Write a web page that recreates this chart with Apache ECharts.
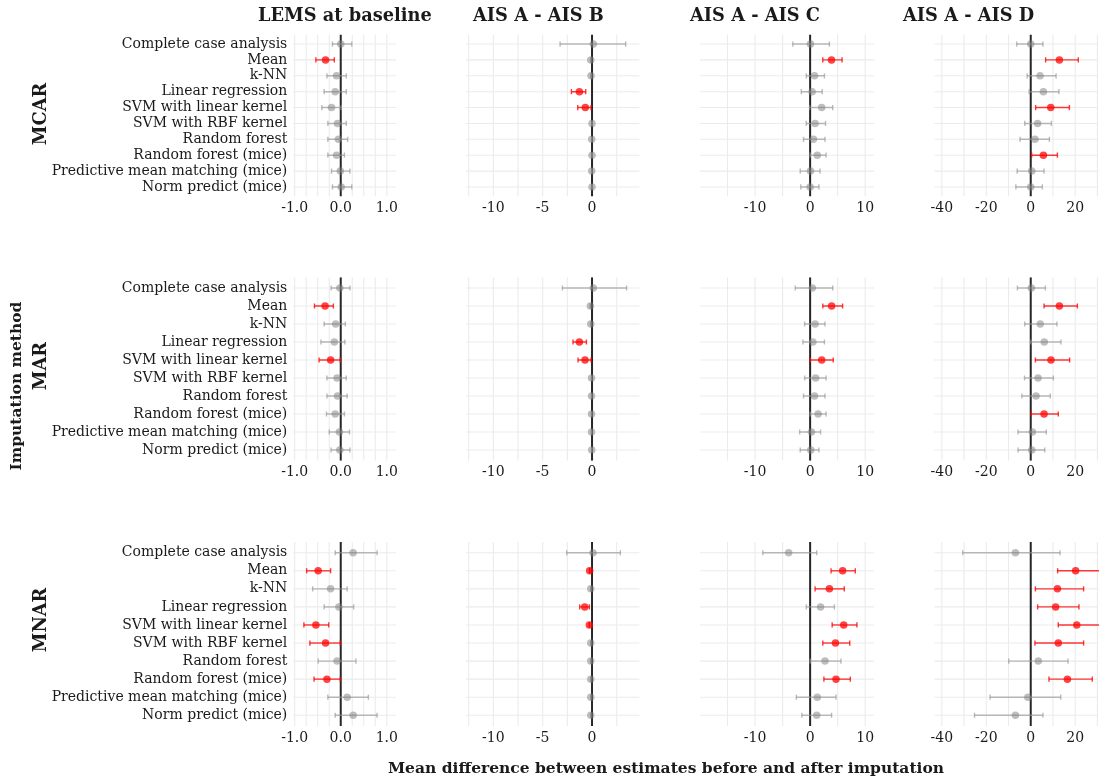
<!DOCTYPE html>
<html>
<head>
<meta charset="utf-8">
<script src="https://cdn.jsdelivr.net/npm/echarts@6/dist/echarts.min.js"></script>
<style>
html,body{margin:0;padding:0;background:#fff;}
#chart{width:1099px;height:782px;}
</style>
</head>
<body>
<div id="chart"></div>
<script>
// ---------------- DATA ----------------
const categories = ["Complete case analysis","Mean","k-NN","Linear regression","SVM with linear kernel","SVM with RBF kernel","Random forest","Random forest (mice)","Predictive mean matching (mice)","Norm predict (mice)"];
const mechanisms = ["MCAR","MAR","MNAR"];
const outcomes = ["LEMS at baseline","AIS A - AIS B","AIS A - AIS C","AIS A - AIS D"];

// each row: [estimate, lower CI, upper CI, significant(1/0)], in category order
const MCAR_LEMS = [[0.00,-0.18,0.24,0],[-0.33,-0.54,-0.14,1],[-0.09,-0.30,0.12,0],[-0.12,-0.36,0.12,0],[-0.20,-0.41,0.01,0],[-0.07,-0.28,0.12,0],[-0.05,-0.28,0.15,0],[-0.09,-0.28,0.08,0],[-0.01,-0.20,0.20,0],[0.01,-0.18,0.24,0]];
const MCAR_B = [[0.13,-3.24,3.41,0],[-0.13,-0.13,-0.13,0],[-0.10,-0.10,-0.10,0],[-1.28,-2.09,-0.64,1],[-0.68,-1.45,-0.10,1],[0.00,0.00,0.00,0],[-0.03,-0.03,-0.03,0],[0.00,0.00,0.00,0],[-0.03,-0.03,-0.03,0],[0.00,0.00,0.00,0]];
const MCAR_C = [[0.06,-3.15,3.5,0],[3.88,2.3,5.8,1],[0.8,-0.7,2.6,0],[0.36,-1.6,2.2,0],[2.1,-0.1,4.1,0],[0.9,-0.7,2.8,0],[0.6,-1.2,2.7,0],[1.3,0.0,2.9,0],[0.06,-1.8,1.8,0],[0.0,-1.7,1.6,0]];
const MCAR_D = [[0.0,-6.3,5.5,0],[12.9,6.7,21.4,1],[4.2,-1.6,11.4,0],[5.7,-0.7,12.7,0],[9.0,2.2,17.4,1],[3.1,-2.7,9.3,0],[1.9,-4.8,8.4,0],[5.7,0.4,12.0,1],[0.45,-6.1,6.0,0],[0.0,-6.7,5.2,0]];

const MAR_LEMS = [[-0.02,-0.21,0.20,0],[-0.34,-0.57,-0.16,1],[-0.11,-0.36,0.10,0],[-0.14,-0.43,0.09,0],[-0.22,-0.47,-0.01,1],[-0.08,-0.30,0.12,0],[-0.07,-0.30,0.14,0],[-0.12,-0.31,0.08,0],[-0.03,-0.25,0.19,0],[-0.02,-0.21,0.20,0]];
const MAR_B = [[0.13,-3.0,3.5,0],[-0.17,-0.17,-0.17,0],[-0.13,-0.13,-0.13,0],[-1.28,-1.93,-0.57,1],[-0.71,-1.42,-0.10,1],[-0.05,-0.05,-0.05,0],[-0.05,-0.05,-0.05,0],[-0.05,-0.05,-0.05,0],[-0.05,-0.05,-0.05,0],[-0.03,-0.03,-0.03,0]];
const MAR_C = [[0.4,-2.7,4.1,0],[3.9,2.3,5.9,1],[0.9,-1.0,2.7,0],[0.5,-1.3,2.6,0],[2.1,0.0,4.2,1],[1.0,-1.0,2.9,0],[0.8,-1.2,2.7,0],[1.45,0.0,2.9,0],[0.24,-1.9,1.9,0],[0.12,-1.8,1.6,0]];
const MAR_D = [[0.3,-6.0,6.6,0],[12.9,6.0,21.0,1],[4.3,-2.7,11.8,0],[6.1,0.0,13.6,0],[9.1,2.1,17.5,1],[3.3,-2.8,10.2,0],[2.4,-4.0,8.8,0],[6.0,0.15,12.4,1],[0.75,-5.7,7.0,0],[0.45,-5.7,6.3,0]];

const MNAR_LEMS = [[0.27,-0.12,0.79,0],[-0.49,-0.74,-0.22,1],[-0.22,-0.61,0.14,0],[-0.04,-0.36,0.28,0],[-0.54,-0.80,-0.26,1],[-0.33,-0.67,-0.01,1],[-0.08,-0.49,0.33,0],[-0.30,-0.58,-0.01,1],[0.14,-0.28,0.60,0],[0.27,-0.12,0.79,0]];
const MNAR_B = [[0.10,-2.57,2.87,0],[-0.24,-0.24,-0.24,1],[-0.13,-0.13,-0.13,0],[-0.74,-1.25,-0.27,1],[-0.27,-0.27,-0.27,1],[-0.13,-0.13,-0.13,0],[-0.13,-0.13,-0.13,0],[-0.13,-0.13,-0.13,0],[-0.13,-0.13,-0.13,0],[-0.13,-0.13,-0.13,0]];
const MNAR_C = [[-3.9,-8.6,1.2,0],[5.9,3.8,8.2,1],[3.5,0.9,6.2,1],[1.9,-0.7,4.4,0],[6.1,4.0,8.5,1],[4.6,2.3,7.2,1],[2.7,0.0,5.6,0],[4.7,2.5,7.3,1],[1.3,-2.5,4.7,0],[1.2,-1.5,3.9,0]];
const MNAR_D = [[-6.9,-30.6,13.2,0],[20.2,12.1,31.5,1],[12.0,2.1,23.8,1],[11.2,3.1,21.7,1],[20.7,12.4,31.5,1],[12.4,1.9,23.8,1],[3.4,-9.9,16.8,0],[16.5,8.2,27.7,1],[-1.3,-18.3,13.5,0],[-6.9,-25.3,5.5,0]];

const panels = [
  [MCAR_LEMS, MCAR_B, MCAR_C, MCAR_D],
  [MAR_LEMS, MAR_B, MAR_C, MAR_D],
  [MNAR_LEMS, MNAR_B, MNAR_C, MNAR_D]
];

// axis scales per column
const xLimits = [[-1.03,1.2],[-12.77,4.8],[-20,11.6],[-43.4,30]];
const xTickLabels = [[-1,0,1],[-10,-5,0],[-10,0,10],[-40,-20,0,20]];
const xGridValues = [[-1,-0.75,-0.5,-0.25,0,0.25,0.5,0.75,1],[-12.5,-10,-7.5,-5,-2.5,0,2.5],[-15,-10,-5,0,5,10],[-40,-30,-20,-10,0,10,20,30]];
const xTitle = "Mean difference between estimates before and after imputation";
const yTitle = "Imputation method";

// ---------------- LAYOUT ----------------
const colBox = [[293.3,396],[466,639.4],[700,874],[934.3,1097.4]];
const rowBox = [[34.5,196.5],[277.2,460.8],[541.9,726.1]];
const FONT = "'DejaVu Serif', serif";
const TXT = '#1a1a1a';
const STRIP_FONT = "bold 17.8px 'DejaVu Serif', serif";
const AXTITLE_FONT = "bold 15.5px 'DejaVu Serif', serif";

const grids=[], xAxes=[], yAxes=[], series=[];
const yIdx = categories.map((c,i)=>i);

function vLineRender(color,width){
  return function(params, api){
    const cs = params.coordSys;
    const x = api.coord([api.value(0), 0])[0];
    return {type:'line', shape:{x1:x,y1:cs.y,x2:x,y2:cs.y+cs.height}, style:{stroke:color,lineWidth:width}, silent:true};
  };
}
function hLineRender(color,width){
  return function(params, api){
    const cs = params.coordSys;
    const y = api.coord([api.value(0), api.value(1)])[1];
    return {type:'line', shape:{x1:cs.x,y1:y,x2:cs.x+cs.width,y2:y}, style:{stroke:color,lineWidth:width}, silent:true};
  };
}
function errRender(params, api){
  const y = api.value(1), lo = api.value(2), hi = api.value(3), sig = api.value(4);
  const p1 = api.coord([lo, y]), p2 = api.coord([hi, y]);
  const col = sig ? 'rgba(255,0,0,0.78)' : 'rgba(150,150,150,0.65)';
  const h = 2.6, lw = 1.4;
  return {type:'group', children:[
    {type:'line', shape:{x1:p1[0],y1:p1[1],x2:p2[0],y2:p2[1]}, style:{stroke:col,lineWidth:lw}},
    {type:'line', shape:{x1:p1[0],y1:p1[1]-h,x2:p1[0],y2:p1[1]+h}, style:{stroke:col,lineWidth:lw}},
    {type:'line', shape:{x1:p2[0],y1:p2[1]-h,x2:p2[0],y2:p2[1]+h}, style:{stroke:col,lineWidth:lw}}
  ]};
}

let g = 0;
for (let r=0;r<3;r++){
  for (let c=0;c<4;c++){
    const [l, rr] = colBox[c];
    const [t, b] = rowBox[r];
    grids.push({left:l, top:t, width:rr-l, height:b-t});
    xAxes.push({
      type:'value', gridIndex:g, min:xLimits[c][0], max:xLimits[c][1],
      axisLine:{show:false}, axisTick:{show:false}, splitLine:{show:false},
      axisLabel:{show:true, customValues:xTickLabels[c], margin:5,
        formatter:(v)=> c===0 ? Number(v).toFixed(1) : String(Math.round(v)),
        fontFamily:FONT, fontSize:14, color:TXT}
    });
    yAxes.push({
      type:'value', gridIndex:g, min:-0.6, max:9.6, inverse:true,
      axisLine:{show:false}, axisTick:{show:false}, splitLine:{show:false},
      axisLabel:{show:c===0, customValues:yIdx, margin:6,
        formatter:(v)=>categories[Math.round(v)],
        fontFamily:FONT, fontSize:14, color:TXT}
    });
    const d = panels[r][c];
    series.push({type:'custom', xAxisIndex:g, yAxisIndex:g, z:1, silent:true, clip:true,
      renderItem:vLineRender('#ebebeb',1.1), data:xGridValues[c].map(v=>[v,0]), encode:{x:0,y:1}});
    series.push({type:'custom', xAxisIndex:g, yAxisIndex:g, z:1, silent:true, clip:true,
      renderItem:hLineRender('#ebebeb',1.1), data:yIdx.map(i=>[xLimits[c][0],i]), encode:{x:0,y:1}});
    series.push({type:'custom', xAxisIndex:g, yAxisIndex:g, z:2, silent:true, clip:true,
      renderItem:vLineRender('#262626',2), data:[[0,0]], encode:{x:0,y:1}});
    series.push({type:'custom', xAxisIndex:g, yAxisIndex:g, z:3, silent:true, clip:true,
      renderItem:errRender, data:d.map((row,i)=>[row[0], i, row[1], row[2], row[3]]), encode:{x:0,y:1}});
    series.push({type:'scatter', xAxisIndex:g, yAxisIndex:g, z:4, silent:true, symbol:'circle', symbolSize:7.5,
      data:d.map((row,i)=>({value:[row[0], i], itemStyle:{color: row[3] ? 'rgba(255,0,0,0.92)' : 'rgba(128,128,128,0.64)'}}))});
    g++;
  }
}

const titleX = [258, 473, 690, 903];
const rowTitleY = [114, 366, 620];
const graphics = [];
outcomes.forEach((o,i)=>graphics.push({type:'text', x:titleX[i], y:16, style:{text:o, font:STRIP_FONT, fill:TXT, textAlign:'left', textVerticalAlign:'middle'}}));
mechanisms.forEach((m,i)=>graphics.push({type:'text', x:41, y:rowTitleY[i], rotation:Math.PI/2, style:{text:m, font:STRIP_FONT, fill:TXT, textAlign:'center', textVerticalAlign:'middle'}}));
graphics.push({type:'text', x:17, y:386, rotation:Math.PI/2, style:{text:yTitle, font:AXTITLE_FONT, fill:TXT, textAlign:'center', textVerticalAlign:'middle'}});
graphics.push({type:'text', x:666, y:769, style:{text:xTitle, font:AXTITLE_FONT, fill:TXT, textAlign:'center', textVerticalAlign:'middle'}});

const chart = echarts.init(document.getElementById('chart'), null, {renderer:'canvas'});
chart.setOption({
  animation:false,
  backgroundColor:'#ffffff',
  grid:grids, xAxis:xAxes, yAxis:yAxes, series:series, graphic:graphics
});
</script>
</body>
</html>
